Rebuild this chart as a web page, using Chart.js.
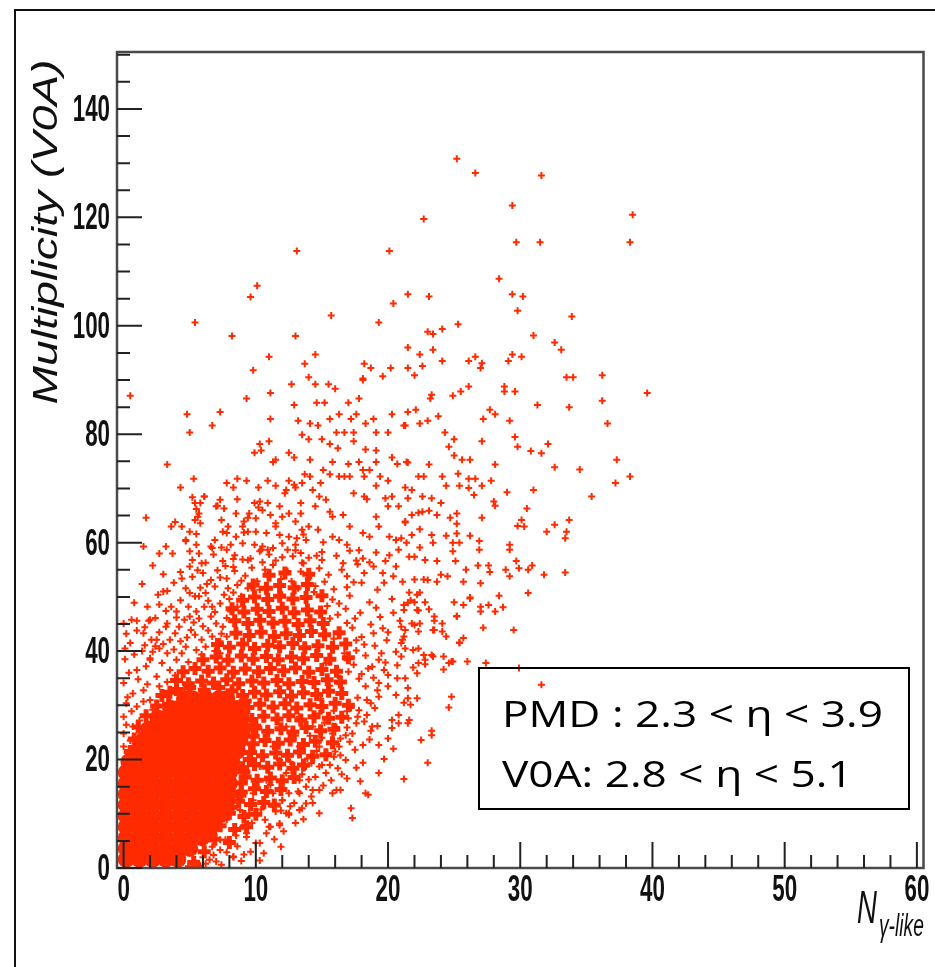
<!DOCTYPE html>
<html>
<head>
<meta charset="utf-8">
<title>Multiplicity (V0A) vs N gamma-like</title>
<script src="https://cdn.jsdelivr.net/npm/chart.js@4.4.1/dist/chart.umd.min.js"></script>
<style>
  html, body { margin: 0; padding: 0; background: #fff; }
  #wrap { position: relative; width: 935px; height: 967px; }
</style>
</head>
<body>
<div id="wrap"><canvas id="scatterChart"></canvas></div>
<script>
// Tick labels
const xTicks = [0, 10, 20, 30, 40, 50, 60];
const yTicks = [0, 20, 40, 60, 80, 100, 120, 140];

// Solid core of the distribution
const corePoints = [
  [0.2,1.6],[1.2,1.6],[2.2,1.6],[3.2,1.6],[4.1,1.6],
  [0.2,3.6],[1.2,3.6],[2.2,3.6],[3.2,3.6],[4.2,3.6],[5.0,3.6],
  [0.2,5.6],[1.2,5.6],[2.2,5.6],[3.2,5.6],[4.2,5.6],[5.2,5.6],[5.9,5.6],
  [0.2,7.6],[1.2,7.6],[2.2,7.6],[3.2,7.6],[4.2,7.6],[5.2,7.6],[6.2,7.6],[6.6,7.6],
  [0.2,9.6],[1.2,9.6],[2.2,9.6],[3.2,9.6],[4.2,9.6],[5.2,9.6],[6.2,9.6],[7.0,9.6],
  [0.2,11.6],[1.2,11.6],[2.2,11.6],[3.2,11.6],[4.2,11.6],[5.2,11.6],[6.2,11.6],[7.2,11.6],[7.6,11.6],
  [0.2,13.6],[1.2,13.6],[2.2,13.6],[3.2,13.6],[4.2,13.6],[5.2,13.6],[6.2,13.6],[7.2,13.6],[7.9,13.6],
  [0.2,15.6],[1.2,15.6],[2.2,15.6],[3.2,15.6],[4.2,15.6],[5.2,15.6],[6.2,15.6],[7.2,15.6],[8.0,15.6],
  [0.2,17.6],[1.2,17.6],[2.2,17.6],[3.2,17.6],[4.2,17.6],[5.2,17.6],[6.2,17.6],[7.2,17.6],[8.0,17.6],
  [0.4,19.6],[1.4,19.6],[2.4,19.6],[3.4,19.6],[4.4,19.6],[5.4,19.6],[6.4,19.6],[7.4,19.6],[8.2,19.6],
  [1.2,21.6],[2.0,21.6],[3.0,21.6],[4.0,21.6],[5.0,21.6],[6.0,21.6],[7.0,21.6],[8.0,21.6],[8.6,21.6],
  [1.5,23.6],[2.2,23.6],[3.2,23.6],[4.2,23.6],[5.2,23.6],[6.2,23.6],[7.2,23.6],[8.2,23.6],[8.8,23.6],
  [1.9,25.6],[2.6,25.6],[3.6,25.6],[4.6,25.6],[5.6,25.6],[6.6,25.6],[7.6,25.6],[8.6,25.6],[9.0,25.6],
  [2.6,27.6],[3.2,27.6],[4.2,27.6],[5.2,27.6],[6.2,27.6],[7.2,27.6],[8.2,27.6],[8.9,27.6],
  [3.6,29.4],[4.2,29.4],[5.2,29.4],[6.2,29.4],[7.2,29.4],[8.2,29.4],[8.6,29.4],
  [4.6,31.2],[5.2,31.2],[6.2,31.2],[7.2,31.2],[7.8,31.2]
];

// Densely packed part around the core
const densePoints = [
  [5.3,1.0],[6.1,3.0],[6.6,5.9],[7.5,9.6],[8.2,11.2],[8.8,13.4],[8.9,15.7],[9.1,17.7],[9.5,20.0],[9.8,24.3],[9.9,26.2],
  [0.5,21.5],[0.8,23.8],[1.1,26.0],[1.7,28.1],[2.5,29.9],[2.9,31.8],[4.0,32.9],[5.0,33.3],[6.1,32.8],[7.2,33.3],[8.2,32.7],[9.2,30.8],
  [6.9,5.3],[8.0,4.7],
  [7.3,7.8],[8.4,7.1],[9.3,7.6],
  [8.0,10.1],[9.1,9.5],[10.0,9.9],
  [8.7,12.3],[9.6,11.7],[10.6,12.1],[11.4,11.6],
  [8.9,14.0],[9.9,14.6],[10.8,14.1],[11.9,14.5],
  [9.2,16.8],[10.1,16.2],[11.1,16.6],[12.0,16.1],[12.9,16.7],
  [9.0,18.5],[9.9,19.1],[10.9,18.6],[11.8,19.2],[12.8,18.4],[13.6,19.0],
  [9.6,21.3],[10.5,20.7],[11.5,21.2],[12.4,20.8],[13.3,21.4],[14.3,20.6],[15.3,20.9],
  [9.8,22.9],[10.7,23.5],[11.7,23.0],[12.6,23.6],[13.6,22.8],[14.5,23.4],[15.8,23.1],
  [10.0,25.8],[10.9,25.2],[11.9,25.7],[12.8,25.1],[13.8,25.9],[14.9,25.3],[15.9,25.6],
  [9.7,27.4],[10.6,28.0],[11.6,27.5],[12.5,28.1],[13.4,27.3],[14.4,27.9],[15.5,27.6],[16.5,27.8],
  [3.4,30.2],[9.4,29.6],[10.3,30.2],[11.3,29.7],[12.2,30.3],[13.1,29.5],[14.1,30.1],[15.0,29.8],[16.0,30.4],[17.0,30.0],
  [3.5,32.4],[9.0,31.8],[9.9,32.4],[10.8,31.9],[11.8,32.5],[12.7,31.7],[13.6,32.3],[14.6,32.0],[15.5,32.6],[16.5,32.2],
  [4.0,34.6],[4.9,34.0],[5.9,34.5],[6.8,34.1],[7.8,34.7],[8.7,34.0],[9.7,34.5],[10.6,34.1],[11.6,34.6],[12.5,34.0],[13.5,34.4],[14.4,34.2],[15.4,34.7],[16.4,34.3],
  [4.5,36.2],[5.4,36.8],[6.4,36.3],[7.3,36.9],[8.3,36.1],[9.2,36.7],[10.2,36.2],[11.1,36.8],[12.1,36.4],[13.0,36.9],[14.0,36.1],[15.0,36.6],[16.1,36.3],
  [6.0,38.4],[7.0,38.9],[7.9,38.3],[8.9,39.1],[9.8,38.5],[10.8,39.0],[11.7,38.4],[12.7,38.9],[13.6,38.6],[14.6,39.2],[15.6,38.5],[17.0,38.8],
  [7.1,41.2],[8.0,40.7],[9.0,41.3],[9.9,40.5],[10.9,41.1],[11.8,40.8],[12.8,41.4],[13.7,40.6],[14.7,41.0],[15.8,40.7],[16.8,41.3],
  [8.5,43.3],[9.5,42.9],[10.4,43.5],[11.4,42.7],[12.3,43.2],[13.3,42.9],[14.2,43.6],[15.2,43.0],[16.3,43.4],
  [8.4,45.6],[9.4,45.1],[10.3,45.7],[11.3,45.2],[12.2,45.5],[13.2,44.9],[14.1,45.6],[15.1,45.1],
  [8.2,47.8],[9.1,47.2],[10.1,47.7],[11.0,47.3],[12.0,47.9],[12.9,47.1],[13.9,47.6],[14.9,47.2],
  [9.0,49.4],[9.9,50.0],[10.9,49.5],[11.8,50.1],[12.8,49.6],[13.8,49.9],[15.0,50.2],
  [9.8,52.2],[10.8,51.6],[11.8,52.1],[12.9,51.7],[13.9,52.3],[11.0,54.0],[12.2,54.4],[14.0,54.2]
];

// Individual events (N_gamma-like, V0A multiplicity)
const eventPoints = [
  [25.2,130.8],[26.6,128.2],[31.6,127.7],[29.4,122.2],[22.7,119.7],[38.5,120.5],[29.7,115.4],[31.5,115.4],[38.3,115.4],
  [13.1,113.8],[20.1,113.8],[28.4,108.7],[10.1,107.4],[9.6,105.3],[21.5,105.8],[23.1,105.4],[29.4,105.8],[30.2,105.4],
  [20.4,104.1],[29.8,102.8],[33.9,101.7],[15.7,101.9],[5.4,100.6],[19.3,100.6],[25.3,100.3],[23.0,98.9],[23.4,98.5],
  [24.1,99.4],[31.0,98.2],[8.2,98.1],[13.0,98.1],[32.6,96.9],[33.1,95.6],[21.5,96.0],[22.4,94.7],[23.4,95.6],
  [24.1,93.5],[26.1,93.5],[26.6,94.3],[27.1,93.1],[27.0,92.2],[29.1,93.5],[29.4,94.7],[30.1,94.3],[21.5,92.2],
  [22.0,90.9],[22.6,92.6],[33.5,90.5],[34.0,90.5],[36.2,90.9],[11.0,94.3],[14.5,94.7],[13.7,93.0],[9.8,91.8],
  [14.0,90.5],[18.2,93.0],[18.7,92.2],[20.2,92.2],[19.6,90.7],[18.1,90.3],
  [0.5,87.1],[9.3,86.6],[11.1,87.6],[12.7,89.2],[14.5,89.2],[15.5,89.2],[16.0,88.4],[17.0,85.8],[17.8,86.6],[18.1,90.0],
  [15.2,85.8],[12.9,85.4],[14.6,85.8],[4.8,83.7],[7.3,84.1],[5.0,80.3],[6.7,81.6],[11.1,82.8],[13.2,82.5],[14.1,82.0],
  [14.7,81.6],[15.6,82.8],[16.3,83.7],[17.2,82.8],[17.6,83.7],[18.3,82.0],[18.9,82.8],[20.3,83.7],[21.2,81.6],
  [13.5,79.9],[14.0,79.1],[15.0,79.1],[16.1,80.3],[16.7,80.3],[17.4,80.3],[19.1,80.3],[20.0,80.3],[10.3,78.2],[11.0,78.7],
  [15.6,78.2],[16.2,77.4],[17.4,78.7],[18.3,77.2],[19.1,77.0],[9.9,76.6],[10.4,77.0],[12.5,76.6],[12.9,75.7],[11.3,74.9],
  [11.5,75.3],[14.1,75.3],[15.8,74.9],[17.0,74.5],[17.8,74.9],[19.1,74.9],[20.3,75.7],[20.7,74.5],[21.4,74.9],[3.3,74.4],
  [5.3,71.8],[4.3,70.2],[7.8,71.0],[8.3,70.2],[8.6,71.8],[9.3,71.4],[10.2,70.2],[10.9,71.4],[11.5,70.5],[12.5,71.4],
  [13.0,70.2],[13.5,71.0],[13.7,72.6],[14.1,72.2],[14.3,69.7],[14.9,71.0],[15.1,73.4],[15.6,72.6],[16.3,72.2],[16.7,72.2],
  [17.1,72.2],[18.1,73.4],[18.6,73.4],[18.2,72.2],[19.1,70.5],[19.4,72.2],[20.0,71.4],[21.3,70.2],[5.2,68.4],[6.1,68.5],
  [5.5,66.2],[5.8,67.3],[5.6,64.8],[1.7,64.6],[3.9,63.8],[4.4,63.0],[3.6,63.0],[5.8,63.6],[7.1,66.8],[7.6,66.3],
  [7.4,64.2],[8.6,68.0],[9.9,67.3],[9.4,64.6],[9.0,63.0],[9.1,61.9],[10.2,66.5],[10.9,67.3],[11.8,66.7],[12.0,64.8],
  [12.2,69.1],[13.4,67.3],[13.4,65.4],[14.5,66.7],[14.8,68.5],[15.3,67.9],[15.6,65.7],[15.8,64.8],[16.6,65.1],[17.4,69.1],
  [18.2,68.5],[18.4,68.0],[19.1,64.8],[19.8,68.2],[20.3,68.5],[20.8,66.7],[20.0,66.7],[21.3,63.9],[10.8,61.8],[11.5,63.0],
  [12.5,61.1],[13.1,60.8],[14.0,63.0],[14.7,62.4],[15.8,61.1],[16.3,60.5],[17.1,63.0],[18.1,61.8],[18.6,61.1],[19.3,63.0],
  [20.1,61.1],[20.6,60.5],[1.5,59.3],[2.7,58.0],[3.2,59.3],[3.7,58.0],[4.7,60.5],[5.0,58.4],[5.5,59.6],[6.6,59.3],
  [6.9,60.5],[7.8,61.8],[8.1,59.6],[8.4,57.7],[9.4,56.8],[10.3,58.4],[10.5,59.3],[12.0,57.3],[13.0,58.6],[14.0,57.2],
  [15.0,58.3],[16.1,57.6],[17.1,58.5],[18.1,57.1],[19.1,58.2],[20.1,57.7],[20.8,58.7],[5.2,56.8],[6.2,56.3],[7.5,56.6],
  [9.0,56.9],[10.5,56.4],[11.5,56.7],[13.5,56.3],[15.0,56.8],[16.6,56.2],[17.6,56.7],[18.6,56.4],[19.8,56.6],
  [39.6,87.6],[36.2,86.2],[36.6,82.0],[33.7,85.0],[31.3,85.4],[29.6,87.9],[28.8,88.8],[28.8,87.9],[26.1,88.8],[25.5,87.9],
  [24.9,87.1],[23.3,87.3],[23.2,86.6],[22.1,84.5],[21.5,84.1],[21.3,81.6],[22.4,82.0],[23.0,82.5],[23.8,83.3],[27.7,84.5],
  [28.1,83.7],[27.2,82.8],[29.2,82.5],[24.3,80.3],[25.0,79.1],[24.6,77.7],[27.1,78.7],[29.6,79.5],[29.8,77.7],[30.8,76.9],
  [31.6,76.5],[32.1,78.2],[25.0,76.1],[25.6,75.3],[26.2,75.3],[28.1,74.4],[23.1,74.4],[21.5,74.8],[32.6,73.9],[34.5,73.5],
  [37.3,75.3],[38.3,72.2],[37.2,71.0],[35.4,68.5],[31.0,69.7],[29.0,69.3],[27.8,71.4],[27.1,70.5],[26.6,71.8],[26.1,71.8],
  [26.1,70.1],[25.4,70.5],[25.3,72.7],[24.4,70.5],[24.1,72.2],[22.7,72.2],[22.3,72.2],[26.5,68.8],[28.0,67.6],[28.1,66.8],
  [30.5,66.3],[30.1,64.2],[30.3,63.0],[29.8,63.1],[32.0,62.0],[32.6,63.3],[33.7,64.2],[33.5,62.0],[33.4,60.8],[29.2,59.6],
  [29.2,58.7],[27.1,64.6],[26.9,60.3],[26.9,58.7],[26.2,61.3],[25.2,65.4],[25.2,63.5],[25.2,61.7],[24.7,64.6],[25.4,60.0],
  [24.9,60.0],[24.9,58.4],[24.4,61.3],[23.7,65.1],[24.0,67.3],[23.3,68.2],[22.6,68.5],[21.8,69.7],[21.5,68.2],[23.1,65.9],
  [22.6,65.7],[22.3,65.5],[21.8,65.1],[21.3,63.7],[22.4,62.5],[21.8,61.4],[23.3,61.4],[23.4,60.0],[21.4,60.0],[21.0,60.8],
  [22.4,59.1],[21.6,57.4],[22.0,57.4],[22.8,56.8],[23.7,56.6],[25.1,56.6],[26.8,55.8],[27.6,55.8],[27.7,54.6],[25.9,55.0],
  [28.9,55.0],[29.7,56.6],[29.9,55.3],[30.6,55.0],[30.9,55.8],[31.8,54.1],[33.4,54.5],[29.2,53.8],[27.0,52.5],[25.7,52.8],
  [24.5,53.8],[24.0,54.1],[23.7,52.8],[23.0,53.1],[22.7,53.2],[22.0,53.2],[21.1,52.8],[22.4,50.8],[21.6,50.8],[21.7,49.4],
  [22.0,49.0],[22.8,49.0],[23.1,47.7],[23.5,46.4],[22.3,47.5],[21.2,48.5],[25.0,49.0],[25.7,48.5],[26.2,49.7],[27.0,48.2],
  [27.0,47.3],[27.6,48.5],[28.1,47.3],[28.4,50.2],[28.7,48.1],[30.6,50.7],[25.2,46.4],[27.2,44.3],[29.5,43.9],[24.1,45.1],
  [24.1,43.6],[24.4,42.7],[23.4,43.9],[22.4,45.1],[22.3,43.6],[21.8,45.1],[21.2,42.7],[21.3,43.9],[21.9,40.2],[22.3,40.5],
  [22.7,39.3],[23.3,39.3],[24.2,39.0],[24.6,37.8],[24.9,38.1],[25.4,41.5],[25.7,42.4],[26.0,38.1],[27.4,37.8],[22.3,37.8],
  [22.8,37.6],[21.9,37.0],[21.0,41.5],[21.3,40.5],[31.6,33.8],[29.9,36.9],
  [26.2,49.9],[25.2,46.5],[25.4,41.6],[24.8,38.1],[24.2,36.6],[23.4,39.0],[23.5,45.6],[23.5,43.9],[22.2,47.6],[22.2,50.4],
  [21.5,48.9],[21.2,47.6],[21.0,44.5],[22.0,44.8],[21.1,42.1],[22.8,38.4],[22.2,35.9],[21.3,35.0],[21.5,33.2],[21.5,31.3],
  [21.2,30.5],[22.2,31.3],[21.7,30.1],[24.8,31.6],[24.6,29.6],[23.3,25.3],[23.3,24.5],[22.5,23.6],[23.0,19.4],[21.2,16.4],
  [21.5,26.7],[20.8,28.2],[20.8,26.7],[20.3,27.3],[20.3,25.8],[20.0,23.9],[19.3,22.7],[19.3,17.5],[18.5,13.5],[18.1,22.7],
  [18.1,19.4],[19.2,26.2],[18.7,25.3],[18.4,28.2],[19.3,31.6],[20.0,33.5],[20.6,31.9],[20.7,35.0],[17.3,9.2],[17.2,11.0],
  [16.9,16.5],[16.4,14.4],[16.1,14.4],[16.2,18.4],[15.7,16.2],[15.9,20.5],[15.4,21.2],[14.8,14.4],[14.2,13.2],[13.8,15.0],
  [13.5,11.0],[13.2,14.1],[12.5,9.8],[11.8,7.9],[11.1,7.6],[11.5,10.4],[12.0,12.5],[12.8,16.8],[14.5,16.8],[14.2,19.3],
  [14.8,18.7],[16.3,22.4],[17.1,23.3],[17.3,24.8],[16.8,24.5],[17.6,26.7],[17.7,27.9],[17.0,27.6],[18.4,31.0],[18.7,30.4],
  [19.2,32.8],[18.3,33.5],[19.3,34.1],[20.0,35.6],[19.7,36.5],[19.3,38.4],[18.8,37.1],
  [5.0,62.0],[5.5,61.6],[4.7,60.3],[4.3,54.6],[4.4,53.4],[1.4,52.4],[2.6,50.4],[3.0,51.0],[3.3,51.1],[0.8,48.9],
  [1.8,48.2],[0.0,45.1],[0.6,45.8],[1.0,45.6],[1.9,45.6],[2.4,46.1],[1.6,44.4],[0.1,40.5],[2.1,42.1],[1.6,41.1],
  [2.7,40.5],[3.5,42.1],[3.3,45.1],[3.6,48.2],[4.3,49.4],[4.0,47.3],[5.0,50.7],[4.9,48.2],[5.4,50.1],[5.2,53.7],
  [6.0,54.4],[6.7,59.0],[7.5,62.0],[7.0,66.7],[8.3,57.0],[8.3,55.5],[7.8,53.4],[7.3,53.6],[6.9,51.9],[6.6,53.1],
  [6.2,50.7],[5.7,50.1],[6.1,48.2],[5.5,47.3],[5.0,46.4],[4.6,45.8],[4.2,44.5],[3.9,43.3],[4.3,41.8],[5.1,43.9],
  [5.4,43.0],[5.9,42.1],[4.7,40.8],[5.5,40.2],[6.2,40.8],[3.3,39.6],[2.2,39.9],[2.0,38.7],[0.1,38.5],[6.7,48.2],
  [6.6,46.4],[7.0,45.1],[7.5,44.5],[7.8,46.1],[8.1,47.3],[7.6,50.4],[7.9,51.6],[8.6,52.2],[8.9,50.1],[9.4,51.6],
  [8.6,48.2],[9.1,47.0],[6.7,42.7],[7.3,41.8],[7.8,42.7],[7.3,39.6],[8.0,40.8],
  [10.0,64.5],[9.1,63.9],[9.5,65.4],[10.0,62.0],[10.4,58.7],[10.9,58.7],[9.6,57.1],[11.3,59.0],[12.0,59.9],[12.4,58.7],
  [13.0,59.6],[13.4,58.1],[13.8,60.5],[13.5,62.4],[13.0,63.9],[12.5,65.4],[12.3,69.7],[12.9,70.7],[10.5,66.0],[11.1,65.1],
  [11.5,63.6],[10.3,67.6],[8.5,65.4],[7.9,63.0],[8.5,61.1],[9.0,59.9],[9.4,62.0],[7.8,58.7],[5.7,58.0],[5.9,56.2],
  [5.0,55.6],[5.4,64.2],[5.7,65.4],[5.4,67.3],[6.1,68.5],[7.3,67.9],
  [10.0,4.6],[8.3,2.1],[7.3,3.3],[6.5,1.5],[5.5,0.9],[9.0,7.6],[9.5,10.1],[10.8,13.8],[11.8,8.2],[11.3,11.3],
  [12.5,13.8],[13.3,16.2],[14.3,14.4],[15.8,13.8],[18.3,13.8],[16.8,19.9],[15.3,17.5],[13.8,18.7],[12.3,17.5],[13.3,22.4],
  [14.8,22.4],[15.8,24.8],[18.8,26.1],[21.6,27.3],[14.3,26.1],[13.3,27.9],[14.8,28.5],[12.3,26.1],[11.3,22.4],[10.3,18.7],
  [11.8,19.9],[10.8,16.2],[9.8,13.8],[9.3,6.4],[7.7,5.2],[10.8,6.4],[12.3,10.1],[13.8,11.9],[14.8,10.1],
  [0.0,27.9],[0.0,24.8],[0.7,26.1],[0.0,22.4],[0.2,30.4],[0.7,32.2],[1.5,32.8],[0.0,34.1],[1.0,36.5],[2.0,38.4],
  [0.5,41.5],[1.5,43.3],[2.5,42.1],[2.0,45.8],[3.2,44.5],[1.0,29.8],[2.0,31.0],[2.7,33.5],[3.0,29.8],[2.5,35.3],
  [3.5,36.5],[4.0,38.4],
  [16.0,30.2],[16.6,32.0],[17.2,29.5],[17.7,31.4],[16.3,34.0],[17.0,36.2],[17.8,34.9],[18.5,36.8],[16.9,38.3],[17.6,40.1],
  [18.3,39.2],[19.0,41.0],[18.0,42.6],[17.3,44.3],[18.7,44.9],[19.4,46.3],[17.9,47.1],[18.6,49.0],[17.1,50.2],[19.2,51.3],
  [18.0,52.6],[16.9,53.8],[19.6,54.4],[20.3,49.6],[20.0,43.5],[20.6,39.9],[19.8,37.9],[20.9,45.6],[18.9,55.6],[16.5,55.0],
  [17.7,56.0],[15.9,51.4],[16.3,48.8],[15.6,46.0],[12.4,54.8],[13.2,51.6],[14.0,53.5],[14.8,55.3],[9.7,55.4],[10.3,51.3],
  [8.9,53.0],[8.4,54.8],[11.3,55.9],[13.6,56.2],[12.0,50.4],[14.4,50.9],[15.2,52.8],
  [5.6,0.3],[6.7,7.0],[8.3,2.0],[9.3,5.7],[10.3,4.6],[11.0,7.6],[12.5,10.1],[13.3,10.7],[14.3,12.0],[7.8,8.9],
  [8.8,10.7],[6.7,3.9],[6.0,2.0],[7.3,5.2],[9.8,12.5],[11.3,13.8],[12.0,12.5],[13.3,13.8],
  [14.9,31.2],[15.6,33.6],[16.2,35.5],[15.3,37.8],[16.7,39.6],[15.9,42.3],[16.9,45.2],[17.5,46.0],[16.2,46.7],[15.4,48.3],
  [16.8,47.8],[17.6,42.0],[18.2,41.2],[17.4,37.5],[18.0,35.8],[18.9,35.1],[19.5,39.6],[19.9,42.0],[18.9,43.3],[19.6,44.2],
  [20.4,47.1],[19.1,48.0],[20.7,37.4],[21.0,39.0],[15.2,26.8],[16.1,26.0],[16.9,28.9],[17.8,29.1],[19.0,29.5],[18.2,27.0],
  [16.4,23.9],[17.5,21.8],[18.6,23.7],[16.0,21.5],[15.0,19.0],[16.5,17.3],[17.6,18.5],[17.9,16.0],[19.7,20.1],[20.4,22.0],
  [5.8,0.4],[6.2,0.8],[4.9,0.3],[7.0,1.2],[7.8,2.9],[8.6,4.0],[8.9,1.3],[9.6,3.0],[10.6,2.7],[11.4,5.3],
  [12.1,6.8],[11.9,3.9],[13.0,8.3],[8.5,6.0],[9.7,8.3],[10.7,8.9],[10.4,10.8],[11.9,10.6],[12.9,12.0],[13.6,9.0],
  [7.4,0.6],[9.1,2.5],[6.8,2.4],[10.3,1.4],
  [0.3,20.6],[0.5,23.5],[0.2,26.4],[1.2,27.2],[0.6,28.9],[1.5,30.7],[0.3,31.5],[1.8,33.9],[2.2,29.2],[2.9,31.9],
  [1.1,34.8],[0.4,36.0],[1.7,37.2],[2.9,37.8],[3.3,34.3],[0.8,39.4],[1.4,40.0],[2.4,40.9],[3.0,41.3],[0.2,43.2],
  [1.0,43.8],[2.7,43.5],[3.8,40.3],[4.4,39.6],[4.9,38.0],[3.9,35.5],[4.6,33.0],
  [5.3,45.3],[6.0,44.6],[6.4,43.8],[5.7,46.0],[6.9,47.2],[7.3,48.8],[6.4,49.3],[5.8,51.7],[6.3,52.4],[7.1,54.9],
  [7.7,55.7],[8.0,49.6],[8.3,50.8],[7.4,43.2],[6.9,40.0],[5.9,39.4],[4.8,42.5],[4.0,46.2],[3.2,47.4],[2.7,48.6],
  [3.8,52.6],[4.7,51.6],[5.6,54.9],[3.0,54.2],[2.2,55.8],[6.8,57.8],[7.4,59.1],
  [9.2,53.9],[10.1,52.9],[10.7,55.0],[11.9,53.3],[12.7,52.9],[13.4,54.7],[14.5,52.0],[15.5,54.1],[15.8,49.5],[16.9,51.8],
  [14.6,57.6],[12.8,57.5],[11.0,57.8],[9.9,59.6],[11.8,61.4],[13.6,61.5],[15.1,60.1],[16.9,59.6],[17.8,58.6],[18.2,54.4],
  [17.4,52.7],[19.7,52.6],[20.4,53.8],[20.6,55.6],
  [14.1,24.4],[15.0,24.0],[14.6,21.6],[13.9,20.2],[13.0,24.4],[12.6,19.6],[13.5,17.3],[12.0,14.7],[11.1,15.3],[12.6,11.4],
  [14.0,16.3],[15.1,15.2],[15.6,19.0],[16.4,20.8],[16.9,25.9],[15.9,29.0]
];

const legendLines = ['PMD : 2.3 < \u03b7 < 3.9', 'V0A: 2.8 < \u03b7 < 5.1'];
const red = '#ff2a00';

const toXY = arr => arr.map(p => ({ x: p[0], y: p[1] }));

// Frame, inward ticks, labels, titles and the text box (ROOT look)
const rootFrame = {
  id: 'rootFrame',
  afterDraw(chart) {
    const { ctx, chartArea: a, scales: { x, y } } = chart;
    ctx.save();

    // outer pad border
    ctx.strokeStyle = '#111';
    ctx.lineWidth = 2;
    ctx.beginPath();
    ctx.moveTo(15, 967); ctx.lineTo(15, 10); ctx.lineTo(935, 10);
    ctx.stroke();

    // plot frame
    ctx.strokeStyle = '#4a4a4a';
    ctx.lineWidth = 2.5;
    ctx.strokeRect(a.left, a.top, a.right - a.left, a.bottom - a.top);

    // ticks pointing into the frame
    ctx.strokeStyle = '#222';
    ctx.lineWidth = 2;
    ctx.beginPath();
    for (let v = 0; v <= 60; v += 2) {
      const px = x.getPixelForValue(v);
      const len = v % 10 === 0 ? 26 : 13;
      ctx.moveTo(px, a.bottom); ctx.lineTo(px, a.bottom - len);
    }
    for (let v = 0; v <= 150; v += 5) {
      const py = y.getPixelForValue(v);
      const len = v % 20 === 0 ? 25 : 13;
      ctx.moveTo(a.left, py); ctx.lineTo(a.left + len, py);
    }
    ctx.stroke();

    // tick labels, narrow bold
    ctx.fillStyle = '#111';
    ctx.font = 'bold 36px "Liberation Sans", Arial, sans-serif';
    ctx.textBaseline = 'middle';
    ctx.textAlign = 'center';
    xTicks.forEach(v => {
      ctx.save();
      ctx.translate(x.getPixelForValue(v), 891);
      ctx.scale(0.62, 1);
      ctx.fillText(String(v), 0, 0);
      ctx.restore();
    });
    ctx.textAlign = 'right';
    yTicks.forEach(v => {
      ctx.save();
      ctx.translate(110, y.getPixelForValue(v) + 2);
      ctx.scale(0.62, 1);
      ctx.fillText(String(v), 0, 0);
      ctx.restore();
    });

    // y title
    ctx.save();
    ctx.translate(57, 232);
    ctx.rotate(-Math.PI / 2);
    ctx.font = 'italic 35px "Liberation Sans", Arial, sans-serif';
    ctx.textAlign = 'center';
    ctx.textBaseline = 'alphabetic';
    const yt = 'Multiplicity (V0A)';
    ctx.scale(345 / ctx.measureText(yt).width, 1);
    ctx.fillText(yt, 0, 0);
    ctx.restore();

    // x title: N with subscript
    ctx.textAlign = 'left';
    ctx.textBaseline = 'alphabetic';
    ctx.save();
    ctx.translate(857, 923);
    ctx.scale(0.6, 1);
    ctx.font = 'italic 46px "Liberation Sans", Arial, sans-serif';
    ctx.fillText('N', 0, 0);
    ctx.restore();
    ctx.save();
    ctx.translate(879, 936);
    ctx.scale(0.62, 1);
    ctx.font = 'italic 31px "Liberation Sans", Arial, sans-serif';
    ctx.fillText('\u03b3-like', 0, 0);
    ctx.restore();

    // text box
    ctx.strokeStyle = '#000';
    ctx.lineWidth = 2;
    ctx.strokeRect(479, 668, 430, 141);
    ctx.fillStyle = '#000';
    ctx.font = '37px "Open Sans", "Noto Sans", sans-serif';
    const s = 381 / ctx.measureText(legendLines[0]).width;
    [727, 787].forEach((base, i) => {
      ctx.save();
      ctx.translate(502, base);
      ctx.scale(s, 1);
      ctx.fillText(legendLines[i], 0, 0);
      ctx.restore();
    });

    ctx.restore();
  }
};

const ctx = document.getElementById('scatterChart').getContext('2d');
const scatterChart = new Chart(ctx, {
  type: 'scatter',
  data: {
    datasets: [
      {
        label: 'core',
        data: toXY(corePoints),
        pointStyle: 'circle',
        pointRadius: 8.5,
        borderWidth: 0,
        backgroundColor: red,
        clip: 0
      },
      {
        label: 'dense',
        data: toXY(densePoints),
        pointStyle: 'cross',
        pointRadius: 6.5,
        borderWidth: 5,
        borderColor: red,
        backgroundColor: red
      },
      {
        label: 'events',
        data: toXY(eventPoints),
        pointStyle: 'cross',
        pointRadius: 3.5,
        borderWidth: 2,
        borderColor: red,
        backgroundColor: red
      }
    ]
  },
  options: {
    responsive: true,
    maintainAspectRatio: false,
    animation: false,
    events: [],
    layout: { padding: { left: 117, top: 52, right: 10, bottom: 99 } },
    plugins: {
      legend: { display: false },
      tooltip: { enabled: false }
    },
    scales: {
      x: { type: 'linear', min: -0.5, max: 60.5, display: false },
      y: { type: 'linear', min: 0, max: 150.5, display: false }
    }
  },
  plugins: [rootFrame]
});
</script>
</body>
</html>
